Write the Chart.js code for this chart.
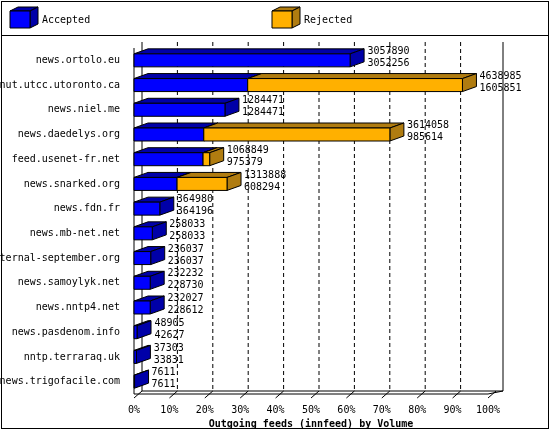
<!DOCTYPE html>
<html lang="en">
  <head>
    <meta charset="UTF-8" />
    <title>Outgoing feeds (innfeed) by Volume</title>
    <script src="https://cdn.jsdelivr.net/npm/chart.js"></script>
    <style>
      body { margin: 0; background: white; }
      #wrap { width: 550px; height: 430px; position: relative; }
    </style>
  </head>
  <body>
    <div id="wrap"><canvas id="feeds" width="550" height="430"></canvas></div>
    <script>
      const hosts = ['news.ortolo.eu', 'nut.utcc.utoronto.ca', 'news.niel.me', 'news.daedelys.org',
        'feed.usenet-fr.net', 'news.snarked.org', 'news.fdn.fr', 'news.mb-net.net',
        'eternal-september.org', 'news.samoylyk.net', 'news.nntp4.net', 'news.pasdenom.info',
        'nntp.terraraq.uk', 'news.trigofacile.com'];
      const offered = [3057890, 4638985, 1284471, 3614058, 1068849, 1313888, 364980, 258033,
        236037, 232232, 232027, 48905, 37303, 7611];
      const accepted = [3052256, 1605851, 1284471, 985614, 975379, 608294, 364196, 258033,
        236037, 228730, 228612, 42627, 33831, 7611];
      const tickLabels = ['0%', '10%', '20%', '30%', '40%', '50%', '60%', '70%', '80%', '90%', '100%'];
      const rejected = offered.map((v, i) => v - accepted[i]);

      const font = '"DejaVu Sans Mono", monospace';
      const DX = 14, DY = 5;

      function shade(ctx, pts, fill) {
        ctx.beginPath();
        ctx.moveTo(pts[0][0], pts[0][1]);
        pts.slice(1).forEach(p => ctx.lineTo(p[0], p[1]));
        ctx.closePath();
        ctx.fillStyle = fill;
        ctx.fill();
        ctx.strokeStyle = '#000';
        ctx.lineWidth = 1;
        ctx.stroke();
      }

      function box3d(ctx, x0, x1, top, bot, front, dark) {
        shade(ctx, [[x0, top], [x0 + DX, top - DY], [x1 + DX, top - DY], [x1, top]], dark);
        shade(ctx, [[x1, top], [x1 + DX, top - DY], [x1 + DX, bot - DY], [x1, bot]], dark);
        shade(ctx, [[x0, top], [x1, top], [x1, bot], [x0, bot]], front);
      }

      const cols = [['#0000ff', '#0000a8'], ['#ffb000', '#b07c10']];

      const decor = {
        id: 'decor',
        beforeDatasetsDraw(chart) {
          const ctx = chart.ctx, a = chart.chartArea, xs = chart.scales.x;
          ctx.save();
          ctx.strokeStyle = '#000';
          ctx.lineWidth = 1;
          ctx.beginPath();
          ctx.moveTo(a.left + 8, a.top - 6); ctx.lineTo(a.left + 8, a.bottom - 3);
          ctx.lineTo(a.right + 15, a.bottom - 3);
          ctx.moveTo(a.right + 15, a.top - 6); ctx.lineTo(a.right + 15, a.bottom - 3);
          ctx.moveTo(a.left, a.bottom); ctx.lineTo(a.right, a.bottom);
          ctx.lineTo(a.right + 15, a.bottom - 3);
          ctx.moveTo(a.left, a.top); ctx.lineTo(a.left, a.bottom);
          ctx.stroke();
          ctx.setLineDash([4, 3]);
          ctx.beginPath();
          xs.ticks.forEach((t, i) => {
            if (i === 0 || i === xs.ticks.length - 1) return;
            const x = xs.getPixelForValue(t.value) + 8;
            ctx.moveTo(x, a.top - 6); ctx.lineTo(x, a.bottom - 3);
          });
          ctx.stroke();
          ctx.setLineDash([]);
          ctx.beginPath();
          xs.ticks.forEach(t => {
            const x = xs.getPixelForValue(t.value);
            ctx.moveTo(x, a.bottom + 4); ctx.lineTo(x + 8, a.bottom - 3);
          });
          ctx.stroke();
          ctx.restore();
        },
        afterDatasetsDraw(chart) {
          const ctx = chart.ctx;
          const m0 = chart.getDatasetMeta(0).data, m1 = chart.getDatasetMeta(1).data;
          ctx.save();
          m0.forEach((b0, i) => {
            const b1 = m1[i];
            const h = b0.height, top = b0.y - h / 2, bot = b0.y + h / 2;
            const left = b0.base, mid = b0.x, end = b1.x;
            box3d(ctx, left, mid, top, bot, cols[0][0], cols[0][1]);
            if (end - mid > 0.5) box3d(ctx, mid, end, top, bot, cols[1][0], cols[1][1]);
            ctx.fillStyle = '#000';
            ctx.font = '10px ' + font;
            ctx.textBaseline = 'middle';
            ctx.fillText(String(offered[i]), end + DX + 3, b0.y - 9);
            ctx.fillText(String(accepted[i]), end + DX + 3, b0.y + 3);
          });
          ctx.restore();
        },
        afterDraw(chart) {
          const ctx = chart.ctx;
          ctx.save();
          ctx.strokeStyle = '#000';
          ctx.lineWidth = 1;
          ctx.strokeRect(1.5, 1.5, 547, 427);
          ctx.beginPath(); ctx.moveTo(1, 35.5); ctx.lineTo(549, 35.5); ctx.stroke();
          [[10, 'Accepted', cols[0]], [272, 'Rejected', cols[1]]].forEach(([x, txt, c]) => {
            shade(ctx, [[x, 11], [x + 8, 7], [x + 28, 7], [x + 20, 11]], c[1]);
            shade(ctx, [[x + 20, 11], [x + 28, 7], [x + 28, 24], [x + 20, 28]], c[1]);
            shade(ctx, [[x, 11], [x + 20, 11], [x + 20, 28], [x, 28]], c[0]);
            ctx.fillStyle = '#000';
            ctx.font = '10px ' + font;
            ctx.textBaseline = 'middle';
            ctx.fillText(txt, x + 32, 20);
          });
          ctx.restore();
        }
      };

      new Chart(document.getElementById('feeds'), {
        type: 'bar',
        data: {
          labels: hosts,
          datasets: [
            { label: 'Accepted', data: accepted, backgroundColor: 'rgba(0,0,0,0)' },
            { label: 'Rejected', data: rejected, backgroundColor: 'rgba(0,0,0,0)' }
          ]
        },
        options: {
          indexAxis: 'y',
          responsive: false,
          animation: false,
          events: [],
          layout: { padding: { top: 48, right: 62, bottom: 0, left: 0 } },
          datasets: { bar: { barThickness: 13 } },
          plugins: { legend: { display: false }, tooltip: { enabled: false } },
          scales: {
            x: {
              stacked: true,
              min: 0,
              max: 5000000,
              grid: { display: false },
              border: { display: false },
              afterFit: s => { s.height = 36; },
              ticks: {
                stepSize: 500000,
                color: '#000',
                padding: 2,
                font: { family: font, size: 10 },
                callback: (v, i) => tickLabels[i]
              },
              title: {
                display: true,
                text: 'Outgoing feeds (innfeed) by Volume',
                color: '#000',
                font: { family: font, size: 10, weight: 'bold' },
                padding: { top: 0, bottom: 0 }
              }
            },
            y: {
              stacked: true,
              grid: { display: false },
              border: { display: false },
              afterFit: s => { s.width = 134; },
              ticks: { color: '#000', font: { family: font, size: 10 }, padding: 6, autoSkip: false }
            }
          }
        },
        plugins: [decor]
      });
    </script>
  </body>
</html>
